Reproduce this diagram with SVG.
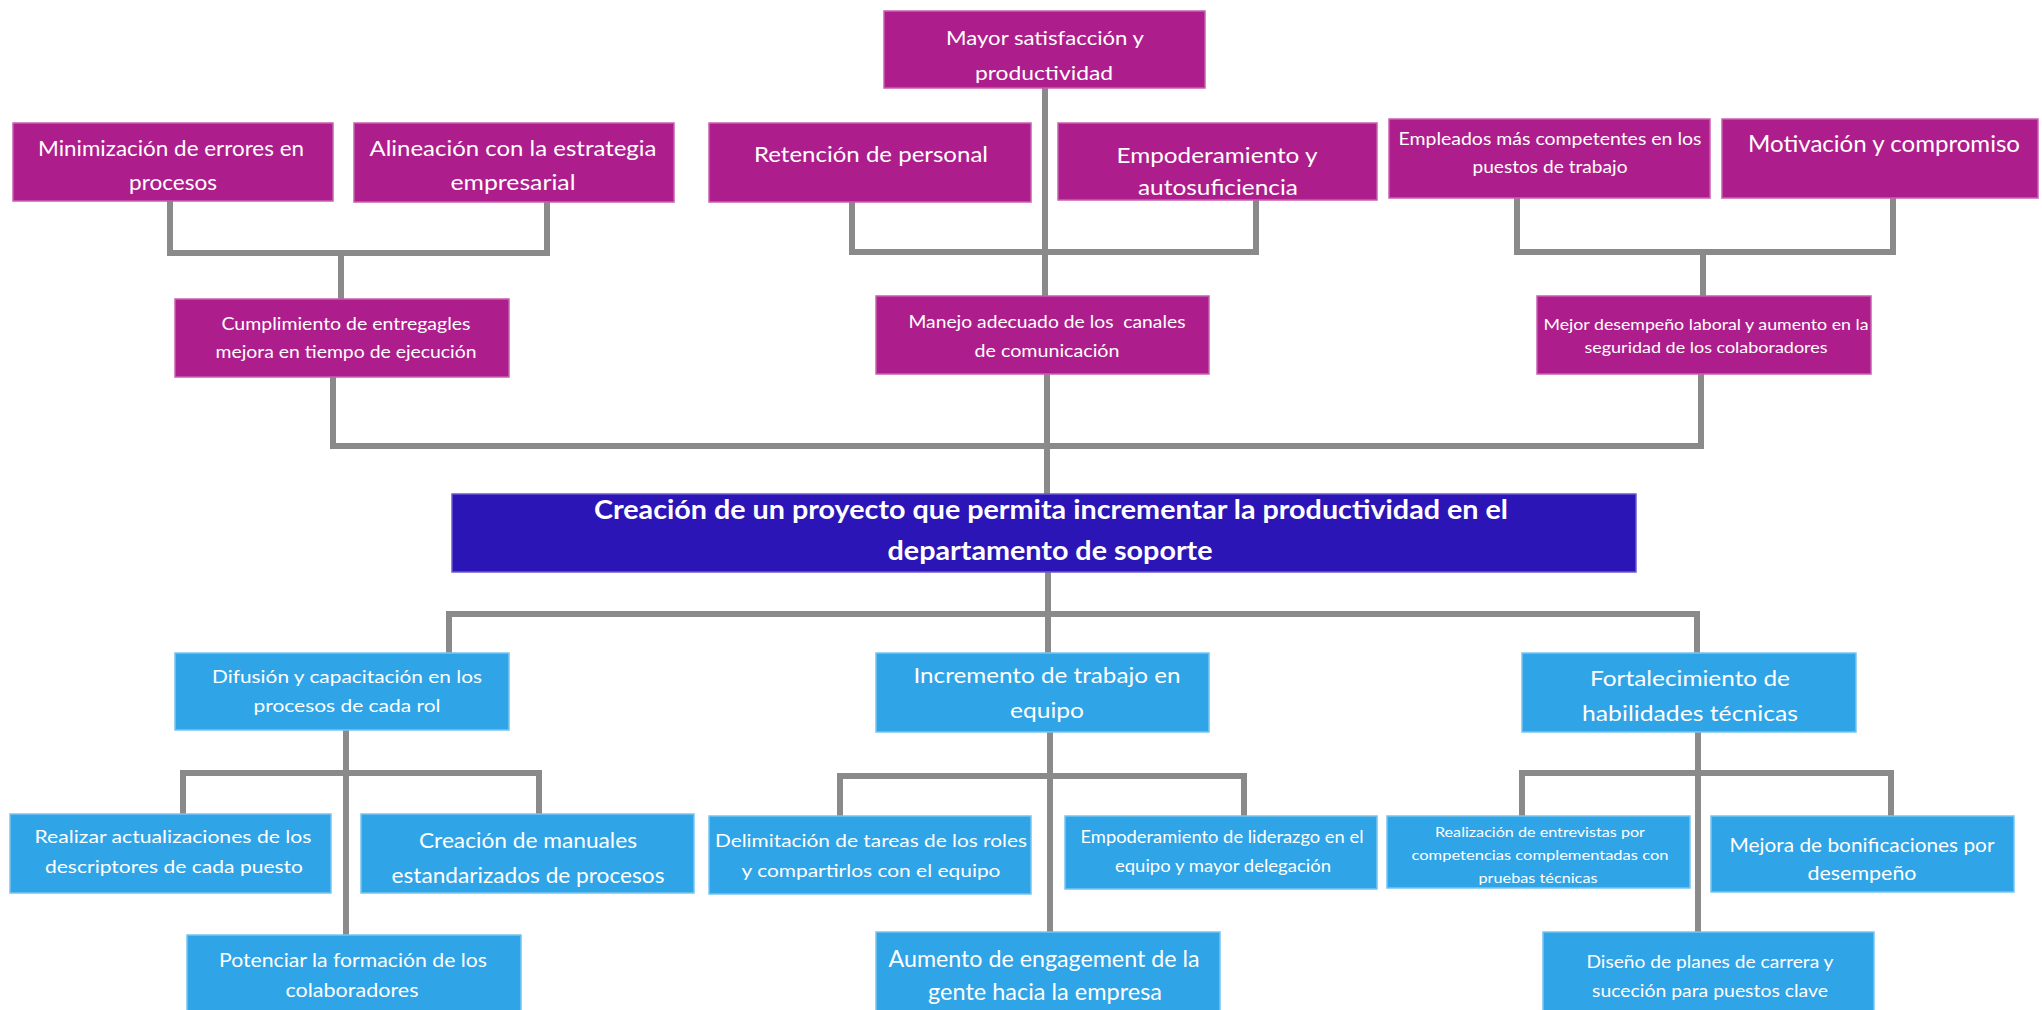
<svg xmlns="http://www.w3.org/2000/svg" width="2042" height="1010" viewBox="0 0 2042 1010">
<style>
.m{fill:#ae1d8c;stroke:#c660b0;stroke-width:1.5}
.b{fill:#2fa4e7;stroke:#79c4f0;stroke-width:1.5}
.c{fill:#2c15b6;stroke:#6a5ad0;stroke-width:1.5}
text{font-family:Lato,"Liberation Sans",sans-serif;fill:#ffffff;text-anchor:middle;white-space:pre}
.conn{stroke:#8a8a8a;stroke-width:6;fill:none;stroke-linejoin:miter}
</style>
<rect width="2042" height="1010" fill="#ffffff"/>
<g id="connectors" class="conn">
<path d="M170 201V253H547V202M341 253V299"/>
<path d="M1045 88V296M852 202V252H1256V197"/>
<path d="M1517 198V252H1893V198M1703 252V296"/>
<path d="M333 377V446H1701V374M1047 374V494"/>
<path d="M1048 572V653M449 653V614H1697V653"/>
<path d="M346 730V935M183 814V773H539V814"/>
<path d="M1050 732V932M840 816V776H1244V816"/>
<path d="M1698 732V932M1522 816V773H1891V816"/>
</g>
<g id="n_mayor"><rect class="m" x="884" y="11" width="321" height="77"/>
<text x="1045" y="45" font-size="20" textLength="198" lengthAdjust="spacingAndGlyphs">Mayor satisfacción y</text>
<text x="1044" y="80" font-size="20" textLength="138" lengthAdjust="spacingAndGlyphs">productividad</text></g>
<g id="n_minim"><rect class="m" x="13" y="123" width="320" height="78"/>
<text x="171" y="156" font-size="21" textLength="266" lengthAdjust="spacingAndGlyphs">Minimización de errores en</text>
<text x="173" y="190" font-size="21" textLength="88" lengthAdjust="spacingAndGlyphs">procesos</text></g>
<g id="n_alin"><rect class="m" x="354" y="123" width="320" height="79"/>
<text x="513" y="156" font-size="21" textLength="287" lengthAdjust="spacingAndGlyphs">Alineación con la estrategia</text>
<text x="513" y="190" font-size="21" textLength="125" lengthAdjust="spacingAndGlyphs">empresarial</text></g>
<g id="n_reten"><rect class="m" x="709" y="123" width="322" height="79"/>
<text x="871" y="162" font-size="22" textLength="234" lengthAdjust="spacingAndGlyphs">Retención de personal</text></g>
<g id="n_empod"><rect class="m" x="1058" y="123" width="319" height="77"/>
<text x="1217" y="163" font-size="22" textLength="201" lengthAdjust="spacingAndGlyphs">Empoderamiento y</text>
<text x="1218" y="195" font-size="22" textLength="160" lengthAdjust="spacingAndGlyphs">autosuficiencia</text></g>
<g id="n_emple"><rect class="m" x="1389" y="119" width="321" height="79"/>
<text x="1550" y="145" font-size="18" textLength="303" lengthAdjust="spacingAndGlyphs">Empleados más competentes en los</text>
<text x="1550" y="173" font-size="18" textLength="155" lengthAdjust="spacingAndGlyphs">puestos de trabajo</text></g>
<g id="n_motiv"><rect class="m" x="1722" y="119" width="316" height="79"/>
<text x="1884" y="152" font-size="23" textLength="272" lengthAdjust="spacingAndGlyphs">Motivación y compromiso</text></g>
<g id="n_cumpl"><rect class="m" x="175" y="299" width="334" height="78"/>
<text x="346" y="330" font-size="17" textLength="249" lengthAdjust="spacingAndGlyphs">Cumplimiento de entregagles</text>
<text x="346" y="358" font-size="17" textLength="261" lengthAdjust="spacingAndGlyphs">mejora en tiempo de ejecución</text></g>
<g id="n_manejo"><rect class="m" x="876" y="296" width="333" height="78"/>
<text x="1047" y="328" font-size="17" textLength="277" lengthAdjust="spacingAndGlyphs">Manejo adecuado de los  canales</text>
<text x="1047" y="357" font-size="17" textLength="145" lengthAdjust="spacingAndGlyphs">de comunicación</text></g>
<g id="n_mejor"><rect class="m" x="1537" y="296" width="334" height="78"/>
<text x="1706" y="330" font-size="16" textLength="325" lengthAdjust="spacingAndGlyphs">Mejor desempeño laboral y aumento en la</text>
<text x="1706" y="353" font-size="16" textLength="243" lengthAdjust="spacingAndGlyphs">seguridad de los colaboradores</text></g>
<g id="n_central"><rect class="c" x="452" y="494" width="1184" height="78"/>
<text x="1051" y="519" font-size="26" font-weight="bold" textLength="914" lengthAdjust="spacingAndGlyphs">Creación de un proyecto que permita incrementar la productividad en el</text>
<text x="1050" y="560" font-size="26" font-weight="bold" textLength="325" lengthAdjust="spacingAndGlyphs">departamento de soporte</text></g>
<g id="n_difus"><rect class="b" x="175" y="653" width="334" height="77"/>
<text x="347" y="683" font-size="18" textLength="270" lengthAdjust="spacingAndGlyphs">Difusión y capacitación en los</text>
<text x="347" y="712" font-size="18" textLength="187" lengthAdjust="spacingAndGlyphs">procesos de cada rol</text></g>
<g id="n_incre"><rect class="b" x="876" y="653" width="333" height="79"/>
<text x="1047" y="683" font-size="22" textLength="267" lengthAdjust="spacingAndGlyphs">Incremento de trabajo en</text>
<text x="1047" y="718" font-size="22" textLength="74" lengthAdjust="spacingAndGlyphs">equipo</text></g>
<g id="n_forta"><rect class="b" x="1522" y="653" width="334" height="79"/>
<text x="1690" y="686" font-size="22" textLength="200" lengthAdjust="spacingAndGlyphs">Fortalecimiento de</text>
<text x="1690" y="721" font-size="22" textLength="216" lengthAdjust="spacingAndGlyphs">habilidades técnicas</text></g>
<g id="n_realizar"><rect class="b" x="10" y="814" width="321" height="79"/>
<text x="173" y="843" font-size="18" textLength="277" lengthAdjust="spacingAndGlyphs">Realizar actualizaciones de los</text>
<text x="174" y="873" font-size="18" textLength="258" lengthAdjust="spacingAndGlyphs">descriptores de cada puesto</text></g>
<g id="n_manuales"><rect class="b" x="361" y="814" width="333" height="79"/>
<text x="528" y="848" font-size="21" textLength="218" lengthAdjust="spacingAndGlyphs">Creación de manuales</text>
<text x="528" y="883" font-size="21" textLength="273" lengthAdjust="spacingAndGlyphs">estandarizados de procesos</text></g>
<g id="n_potenciar"><rect class="b" x="187" y="935" width="334" height="76"/>
<text x="353" y="967" font-size="19" textLength="268" lengthAdjust="spacingAndGlyphs">Potenciar la formación de los</text>
<text x="352" y="997" font-size="19" textLength="133" lengthAdjust="spacingAndGlyphs">colaboradores</text></g>
<g id="n_delim"><rect class="b" x="709" y="816" width="322" height="78"/>
<text x="871" y="847" font-size="18" textLength="312" lengthAdjust="spacingAndGlyphs">Delimitación de tareas de los roles</text>
<text x="871" y="877" font-size="18" textLength="259" lengthAdjust="spacingAndGlyphs">y compartirlos con el equipo</text></g>
<g id="n_lider"><rect class="b" x="1065" y="816" width="312" height="73"/>
<text x="1222" y="843" font-size="17" textLength="283" lengthAdjust="spacingAndGlyphs">Empoderamiento de liderazgo en el</text>
<text x="1223" y="872" font-size="17" textLength="216" lengthAdjust="spacingAndGlyphs">equipo y mayor delegación</text></g>
<g id="n_aumento"><rect class="b" x="876" y="932" width="344" height="79"/>
<text x="1044" y="967" font-size="23" textLength="311" lengthAdjust="spacingAndGlyphs">Aumento de engagement de la</text>
<text x="1045" y="1000" font-size="23" textLength="234" lengthAdjust="spacingAndGlyphs">gente hacia la empresa</text></g>
<g id="n_entrev"><rect class="b" x="1387" y="816" width="303" height="72"/>
<text x="1540" y="837" font-size="14" textLength="210" lengthAdjust="spacingAndGlyphs">Realización de entrevistas por</text>
<text x="1540" y="860" font-size="14" textLength="257" lengthAdjust="spacingAndGlyphs">competencias complementadas con</text>
<text x="1538" y="883" font-size="14" textLength="119" lengthAdjust="spacingAndGlyphs">pruebas técnicas</text></g>
<g id="n_bonif"><rect class="b" x="1711" y="816" width="303" height="76"/>
<text x="1862" y="852" font-size="20" textLength="265" lengthAdjust="spacingAndGlyphs">Mejora de bonificaciones por</text>
<text x="1862" y="880" font-size="20" textLength="109" lengthAdjust="spacingAndGlyphs">desempeño</text></g>
<g id="n_diseno"><rect class="b" x="1543" y="932" width="331" height="79"/>
<text x="1710" y="968" font-size="18" textLength="247" lengthAdjust="spacingAndGlyphs">Diseño de planes de carrera y</text>
<text x="1710" y="997" font-size="18" textLength="236" lengthAdjust="spacingAndGlyphs">suceción para puestos clave</text></g>
</svg>
